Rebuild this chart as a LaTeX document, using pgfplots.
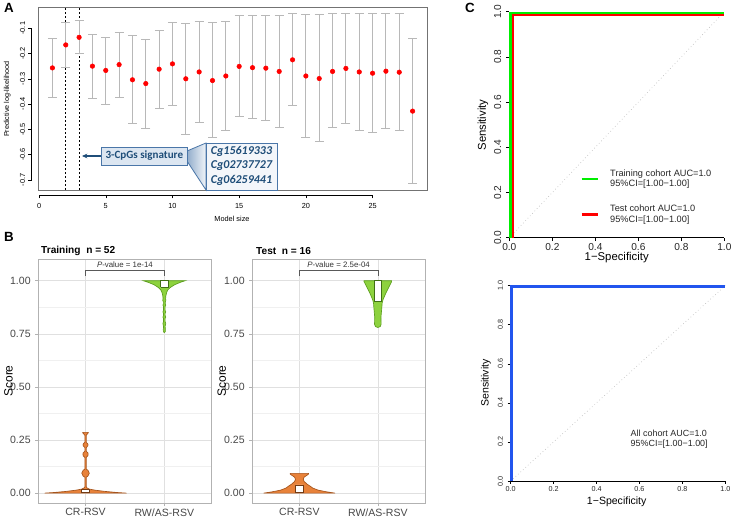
\documentclass[border=0pt]{standalone}
\usepackage{pgfplots}
\pgfplotsset{compat=1.18}
\usepackage{pgfplotstable}
\usepackage{fontspec}
\setmainfont{Liberation Sans}
\newfontfamily\calib{Carlito}
\usetikzlibrary{arrows.meta}
\definecolor{vorange}{HTML}{E8823A}
\definecolor{vorangeD}{HTML}{A5541C}
\definecolor{vgreen}{HTML}{8DD23E}
\definecolor{vgreenD}{HTML}{5C9E1E}
\definecolor{annB}{HTML}{1F4E79}
\definecolor{annE}{HTML}{4A76A8}
\definecolor{annF}{HTML}{DCE6F1}
\definecolor{rocblue}{HTML}{2255EE}
\definecolor{rocgreen}{HTML}{00EE00}
\newcommand{\fsz}[1]{\fontsize{#1}{#1}\selectfont}

\pgfplotstableread{
x y up lo
1 -0.257 -0.139 -0.374
2 -0.166 -0.076 -0.256
3 -0.136 -0.071 -0.199
4 -0.250 -0.124 -0.378
5 -0.267 -0.137 -0.401
6 -0.244 -0.117 -0.374
7 -0.304 -0.130 -0.476
8 -0.319 -0.144 -0.496
9 -0.262 -0.108 -0.419
10 -0.241 -0.078 -0.406
11 -0.300 -0.082 -0.519
12 -0.273 -0.072 -0.472
13 -0.307 -0.079 -0.533
14 -0.289 -0.072 -0.506
15 -0.251 -0.051 -0.449
16 -0.256 -0.051 -0.456
17 -0.258 -0.049 -0.467
18 -0.271 -0.049 -0.494
19 -0.225 -0.041 -0.407
20 -0.289 -0.047 -0.531
21 -0.299 -0.047 -0.548
22 -0.271 -0.043 -0.494
23 -0.259 -0.041 -0.478
24 -0.273 -0.043 -0.503
25 -0.278 -0.043 -0.514
26 -0.270 -0.041 -0.496
27 -0.274 -0.041 -0.506
28 -0.428 -0.140 -0.715
}\dataA

\pgfplotsset{
 bax/.style={
  anchor=south west, scale only axis, width=130pt, height=183.2pt,
  xmin=0.4, xmax=2.6, ymin=-0.048, ymax=1.102,
  xtick={1,2}, xticklabels={CR-RSV,RW/AS-RSV},
  ytick={0,0.25,0.5,0.75,1}, yticklabels={0.00,0.25,0.50,0.75,1.00},
  minor ytick={0.125,0.375,0.625,0.875},
  grid=both, major grid style={draw=black!12, line width=0.45pt},
  minor grid style={draw=black!6, line width=0.3pt},
  axis line style={draw=black!30, line width=0.5pt},
  tick align=outside, major tick length=2.2pt, minor tick length=0pt,
  xtick pos=left, ytick pos=left,
  tick style={draw=black!30, line width=0.45pt},
  tick label style={font=\fsz{7.9}, text=black!72},
  x tick label style={yshift=1.8pt},
  clip=false,
 },
 cax/.style={
  anchor=south west, scale only axis,
  xmin=0, xmax=1, ymin=0, ymax=1, clip=false,
  axis x line=bottom, axis y line=left,
  axis line style={draw=black, line width=0.4pt, -},
  xtick={0,0.2,0.4,0.6,0.8,1}, ytick={0,0.2,0.4,0.6,0.8,1},
  xticklabels={0.0,0.2,0.4,0.6,0.8,1.0}, yticklabels={0.0,0.2,0.4,0.6,0.8,1.0},
  tick align=outside, major tick length=3pt,
  tick style={draw=black, line width=0.4pt},
  y tick label style={rotate=90, anchor=south},
  tick label style={text=black!85},
 },
}

\begin{document}
\begin{tikzpicture}
\path[use as bounding box] (0,0) rectangle (548.25pt,388.5pt);

% ---------------- Panel A
\begin{axis}[
 at={(28.5pt,246pt)}, anchor=south west, scale only axis,
 width=291.75pt, height=137.25pt,
 xmin=-0.08, xmax=29.08, ymin=-0.74, ymax=-0.016,
 clip=false,
 axis line style={draw=black!55, line width=0.5pt},
 xtick={0,5,10,15,20,25}, xticklabels={0,5,10,15,20,25},
 ytick={-0.7,-0.6,-0.5,-0.4,-0.3,-0.2,-0.1},
 yticklabels={-0.7,-0.6,-0.5,-0.4,-0.3,-0.2,-0.1},
 xtick pos=left, ytick pos=left, tick align=outside, major tick length=2.5pt,
 xtick style={draw=black, line width=0.4pt, yshift=-3.75pt},
 ytick style={draw=black, line width=0.4pt, xshift=-4.75pt},
 x tick label style={font=\fsz{5.5}, yshift=-3.75pt},
 y tick label style={font=\fsz{5.5}, xshift=-3.5pt, rotate=90, anchor=south},
]
\draw[black, line width=0.4pt] ([yshift=-3.75pt]axis cs:0,-0.74) -- ([yshift=-3.75pt]axis cs:25,-0.74);
\draw[black, line width=0.4pt] ([xshift=-4.75pt]axis cs:-0.08,-0.7) -- ([xshift=-4.75pt]axis cs:-0.08,-0.1);
\addplot[black, line width=0.4pt, dash pattern=on 1.5pt off 1.5pt] coordinates {(2,-0.74) (2,-0.016)};
\addplot[black, line width=0.4pt, dash pattern=on 1.5pt off 1.5pt] coordinates {(3,-0.74) (3,-0.016)};
\addplot[only marks, mark=*, mark size=1.7pt, mark options={fill=red, draw=red},
 error bars/.cd, y dir=both, y explicit,
 error bar style={draw=black!28, line width=0.75pt},
 error mark options={draw=black!28, line width=0.75pt, mark size=3.4pt, rotate=90}]
 table[x=x, y=y, y error plus expr=\thisrow{up}-\thisrow{y}, y error minus expr=\thisrow{y}-\thisrow{lo}] {\dataA};
\end{axis}

% ---------------- Panel B training
\begin{axis}[bax, at={(28.7pt,11pt)}]
\addplot[fill=vorange, draw=vorangeD, line width=0.5pt] coordinates {
(1.52,0.000) (1.40,0.003) (1.25,0.008) (1.12,0.014) (1.05,0.019) (1.02,0.024) (1.008,0.030) (1.008,0.075) (1.03,0.080) (1.048,0.094) (1.03,0.108) (1.008,0.113) (1.008,0.168) (1.03,0.176) (1.033,0.183) (1.03,0.190) (1.008,0.197) (1.008,0.214) (1.028,0.222) (1.032,0.227) (1.028,0.232) (1.008,0.240) (1.008,0.272) (1.035,0.284) (1.035,0.286)
(0.965,0.286) (0.965,0.284) (0.992,0.272) (0.992,0.240) (0.972,0.232) (0.968,0.227) (0.972,0.222) (0.992,0.214) (0.992,0.197) (0.97,0.190) (0.967,0.183) (0.97,0.176) (0.992,0.168) (0.992,0.113) (0.97,0.108) (0.952,0.094) (0.97,0.080) (0.992,0.075) (0.992,0.030) (0.98,0.024) (0.95,0.019) (0.88,0.014) (0.75,0.008) (0.60,0.003) (0.48,0.000) (1.52,0.000)};
\addplot[fill=white, draw=vorangeD!70!black, line width=0.5pt] coordinates {(0.952,0.003) (1.048,0.003) (1.048,0.019) (0.952,0.019) (0.952,0.003)};
\addplot[fill=vgreen, draw=vgreenD, line width=0.5pt] coordinates {
(2.000,0.756) (2.012,0.760) (2.013,0.770) (2.010,0.785) (2.018,0.798) (2.010,0.808) (2.010,0.822) (2.018,0.829) (2.010,0.837) (2.010,0.846) (2.018,0.853) (2.010,0.861) (2.010,0.878) (2.018,0.885) (2.012,0.892) (2.012,0.900) (2.020,0.908) (2.016,0.916) (2.020,0.930) (2.030,0.945) (2.045,0.957) (2.075,0.968) (2.13,0.981) (2.20,0.992) (2.265,1.000)
(1.735,1.000) (1.80,0.992) (1.87,0.981) (1.925,0.968) (1.955,0.957) (1.970,0.945) (1.980,0.930) (1.984,0.916) (1.980,0.908) (1.988,0.900) (1.988,0.892) (1.982,0.885) (1.990,0.878) (1.990,0.861) (1.982,0.853) (1.990,0.846) (1.990,0.837) (1.982,0.829) (1.990,0.822) (1.990,0.808) (1.982,0.798) (1.990,0.785) (1.987,0.770) (1.988,0.760) (2.000,0.756)};
\addplot[fill=white, draw=vgreenD!70!black, line width=0.5pt] coordinates {(1.952,0.97) (2.048,0.97) (2.048,1.0) (1.952,1.0) (1.952,0.97)};
\addplot[black!65, line width=0.45pt] coordinates {(1,1.022) (1,1.049) (2,1.049) (2,1.022)};
\node[font=\fsz{5.9}, text=black!80] at (axis cs:1.5,1.075) {\textit{P}-value = 1e-14};
\end{axis}

% ---------------- Panel B test
\begin{axis}[bax, at={(189.2pt,11pt)}, width=129.5pt]
\addplot[fill=vorange, draw=vorangeD, line width=0.5pt] coordinates {
(1.455,0.000) (1.35,0.006) (1.24,0.014) (1.17,0.024) (1.145,0.031) (1.10,0.042) (1.06,0.055) (1.05,0.065) (1.06,0.075) (1.10,0.085) (1.117,0.090) (1.117,0.093)
(0.883,0.093) (0.883,0.090) (0.90,0.085) (0.94,0.075) (0.95,0.065) (0.94,0.055) (0.90,0.042) (0.855,0.031) (0.83,0.024) (0.76,0.014) (0.65,0.006) (0.545,0.000) (1.455,0.000)};
\addplot[fill=white, draw=vorangeD!70!black, line width=0.5pt] coordinates {(0.952,0.003) (1.048,0.003) (1.048,0.039) (0.952,0.039) (0.952,0.003)};
\addplot[fill=vgreen, draw=vgreenD, line width=0.5pt] coordinates {
(2.000,0.780) (2.03,0.784) (2.042,0.795) (2.040,0.83) (2.045,0.85) (2.05,0.87) (2.055,0.895) (2.065,0.91) (2.10,0.94) (2.14,0.97) (2.176,0.996) (2.176,1.000)
(1.824,1.000) (1.824,0.996) (1.86,0.97) (1.90,0.94) (1.935,0.91) (1.945,0.895) (1.95,0.87) (1.955,0.85) (1.96,0.83) (1.958,0.795) (1.97,0.784) (2.000,0.780)};
\addplot[fill=white, draw=vgreenD!70!black, line width=0.5pt] coordinates {(1.952,0.904) (2.048,0.904) (2.048,1.0) (1.952,1.0) (1.952,0.904)};
\addplot[black!65, line width=0.45pt] coordinates {(1,1.022) (1,1.049) (2,1.049) (2,1.022)};
\node[font=\fsz{5.9}, text=black!80] at (axis cs:1.5,1.075) {\textit{P}-value = 2.5e-04};
\end{axis}

% ---------------- Panel C top
\begin{axis}[cax, at={(382pt,210.2pt)}, width=161.25pt, height=169.5pt,
 tick label style={font=\fsz{7.6}}, major tick length=2.5pt,
 x tick label style={yshift=1.5pt}]
\addplot[black!25, line width=0.5pt, dotted] coordinates {(0,0) (1,1)};
\addplot[rocgreen, line width=1.8pt] coordinates {(0.0056,0) (0.0056,0.994) (1,0.994)};
\addplot[red, line width=1.4pt] coordinates {(0.015,0) (0.015,0.985) (1,0.985)};
\end{axis}

% ---------------- Panel C bottom
\begin{axis}[cax, at={(383pt,27.75pt)}, width=160.95pt, height=146.5pt,
 tick label style={font=\fsz{5.4}}, major tick length=2.2pt,
 x tick label style={yshift=2pt}]
\addplot[black!25, line width=0.5pt, dotted] coordinates {(0,0) (1,1)};
\addplot[rocblue, line width=2.2pt] coordinates {(0.005,0) (0.005,0.995) (1,0.995)};
\end{axis}

% ---------------- text and annotations (pixel coordinates)
\begin{scope}[shift={(0,388.5pt)}, x=0.75pt, y=-0.75pt]
\node[font=\bfseries\fsz{10}] at (9,8) {A};
\node[font=\bfseries\fsz{10}] at (9,237) {B};
\node[font=\bfseries\fsz{10}] at (470,8) {C};
\node[rotate=90, font=\fsz{5.4}] at (7.3,99) {Predictive log-likelihood};
\node[font=\fsz{5.5}] at (232,219) {Model size};
\node[anchor=west, font=\bfseries\fsz{7.6}] at (36.5,250.5) {Training\ \ n = 52};
\node[anchor=west, font=\bfseries\fsz{7.6}] at (251.5,251.3) {Test\ \ n = 16};
\node[rotate=90, font=\fsz{9}] at (8.5,381) {Score};
\node[rotate=90, font=\fsz{9}] at (221.7,381) {Score};
% C top
\node[rotate=90, font=\fsz{8.5}] at (483,125) {Sensitivity};
\node[font=\fsz{8.5}] at (616.7,258) {1−Specificity};
\draw[rocgreen, line width=2pt] (581.7,179) -- (598.3,179);
\node[anchor=west, align=left, font=\fontsize{6.9}{8}\selectfont, text=black!85] at (605.5,179) {Training cohort AUC=1.0\\95\%CI=[1.00−1.00]};
\draw[red, line width=2pt] (581.7,214.3) -- (598.3,214.3);
\node[anchor=west, align=left, font=\fontsize{6.9}{8}\selectfont, text=black!85] at (605.5,214.5) {Test cohort AUC=1.0\\95\%CI=[1.00−1.00]};
% C bottom
\node[rotate=90, font=\fsz{7.9}] at (486,383) {Sensitivity};
\node[font=\fsz{7.9}] at (616.7,501.5) {1−Specificity};
\node[anchor=west, align=left, font=\fontsize{6.7}{7.5}\selectfont, text=black!85] at (626,439.3) {All cohort AUC=1.0\\95\%CI=[1.00−1.00]};
% annotation in A
\draw[annB, line width=0.9pt, -{Stealth[length=4pt,width=3.5pt]}] (101.7,156) -- (82,156);
\path[left color=annE!60, right color=annF!40, draw=annE, line width=0.6pt] (187,151) -- (206,143) -- (206,190) -- (187,161) -- cycle;
\draw[annE, fill=annF, line width=0.7pt] (101.7,147) rectangle (187,165);
\node[font=\calib\bfseries\fsz{8.3}, text=annB] at (144.3,156) {3-CpGs signature};
\draw[annE, fill=annF!35, line width=0.7pt] (206,143) rectangle (277,190);
\node[font=\calib\bfseries\itshape\fsz{9}, text=annB] at (241.5,151.5) {Cg15619333};
\node[font=\calib\bfseries\itshape\fsz{9}, text=annB] at (241.5,166) {Cg02737727};
\node[font=\calib\bfseries\itshape\fsz{9}, text=annB] at (241.5,180.5) {Cg06259441};
\end{scope}
\end{tikzpicture}
\end{document}
